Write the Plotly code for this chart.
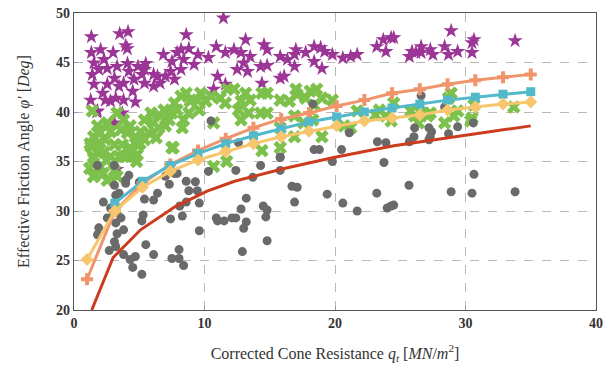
import plotly.graph_objects as go

# ---------------- data ----------------
star_q = [1.33, 3.5, 4.14, 3.96, 4.09, 8.6, 1.33, 2.04, 3.0, 1.53, 2.3, 1.9, 2.55, 3.3, 4.1, 4.9, 5.5, 6.1, 6.4, 6.85,
          7.5, 7.9, 8.2, 8.8, 9.2, 9.5, 10.3, 10.9, 11.6, 8.4, 8.2, 7.4, 7.7, 7.0, 6.6, 5.2, 5.4, 4.6, 3.8, 3.1,
          2.55, 1.53, 2.2, 1.28, 2.8, 3.2, 3.8, 4.7, 1.8, 3.7, 3.1, 11.6, 11.0, 10.7, 2.4, 4.5, 3.45, 6.1, 1.4, 5.4,
          4.2, 1.74, 3.27, 11.45,
          13.15, 12.26, 12.8, 13.5, 14.56, 14.8, 13.0, 12.5, 13.3, 14.3, 14.8, 15.8, 16.35, 17.0, 16.9, 16.9, 17.75,
          18.4, 18.9, 19.2, 18.4, 19.0, 19.8, 20.6, 21.2, 21.7, 14.4, 15.8, 16.1, 23.2, 23.7, 24.3, 23.9,
          24.5, 28.9, 30.65, 30.5, 33.8, 25.7, 25.9, 26.6, 26.6, 27.3, 27.5, 28.4, 28.7, 29.4, 30.5, 26.2]
star_phi = [47.6, 47.9, 48.1, 46.7, 46.4, 47.8, 46.0, 46.3, 46.0, 44.95, 45.3, 44.3, 44.4, 44.6, 44.9, 44.6, 44.9, 43.8, 43.6, 45.8,
            45.1, 46.0, 46.3, 46.4, 44.8, 45.8, 45.5, 46.6, 46.0, 45.3, 44.3, 44.1, 43.3, 43.6, 42.9, 43.8, 42.9, 43.3, 42.9, 43.4,
            42.8, 42.8, 41.9, 41.2, 41.1, 41.4, 41.2, 41.0, 40.1, 39.9, 38.9, 42.8, 43.6, 42.3, 41.2, 42.1, 42.6, 42.6, 43.8, 44.3,
            44.1, 40.0, 34.2, 49.5,
            47.3, 46.3, 46.0, 45.6, 46.8, 46.3, 44.95, 44.3, 44.1, 44.6, 44.7, 45.6, 45.3, 46.3, 45.8, 44.6, 46.0,
            46.6, 46.5, 46.1, 45.1, 44.4, 45.8, 45.45, 45.6, 45.8, 42.9, 43.4, 43.6, 46.6, 47.3, 47.5, 46.1,
            47.5, 48.2, 47.3, 47.0, 47.2, 45.6, 46.1, 46.6, 46.0, 46.3, 45.8, 46.6, 45.8, 46.1, 46.0, 46.0]

cross_q = [1.4, 1.8, 2.55, 3.3, 3.8, 4.3, 1.5, 2.0, 2.8, 3.6, 4.1, 4.7, 5.1, 5.4, 5.9, 6.1, 6.5, 6.6, 7.0, 7.3,
           7.5, 7.7, 7.9, 8.2, 8.6, 8.3, 8.4, 8.8, 8.9, 9.45, 9.7, 10.1, 10.5, 9.6, 7.5, 10.7, 11.2, 11.75, 11.6, 6.9,
           1.3, 1.9, 2.4, 3.1, 3.7, 4.3, 4.85, 5.4, 1.5, 2.3, 2.8, 3.45, 4.1, 4.7, 5.75, 6.3,
           1.23, 2.0, 1.5, 2.5, 1.2, 2.25, 4.0, 4.8, 5.06, 7.6, 10.7, 11.7, 1.5, 3.3, 3.2,
           2.0, 1.5, 2.55, 3.8, 4.85, 3.1,
           12.26, 13.15, 12.8, 13.5, 12.6, 13.4, 12.8, 14.4, 14.8, 14.3, 14.8, 15.8, 16.5, 17.0, 17.1, 17.75, 18.1, 18.6,
           19.0, 18.4, 19.8, 16.9, 17.6, 18.3, 15.8, 16.9, 15.8, 14.4, 19.0, 20.7, 21.2, 21.7, 23.4, 23.9, 24.3, 23.1,
           24.5, 25.8, 26.1, 26.6, 27.1, 26.4, 27.3, 28.4, 28.9, 28.7, 29.4, 29.1, 30.65, 30.5, 30.4, 33.7]
cross_phi = [40.1, 38.6, 38.9, 39.9, 39.2, 38.6, 37.5, 37.9, 38.0, 38.2, 37.9, 37.5, 38.0, 39.2, 39.9, 38.9, 38.4, 39.6, 38.6, 39.2,
             39.9, 40.9, 40.2, 41.6, 41.9, 38.4, 39.2, 39.9, 41.1, 41.2, 41.9, 41.1, 41.6, 40.2, 36.4, 38.9, 41.4, 42.3, 40.9, 40.2,
             36.5, 36.9, 37.2, 36.7, 36.7, 36.4, 36.7, 37.2, 35.5, 35.9, 35.5, 35.5, 35.7, 35.5, 37.9, 37.4,
             36.8, 36.2, 35.3, 35.1, 34.3, 33.8, 35.5, 35.0, 36.8, 36.4, 34.5, 35.0, 33.5, 33.5, 30.1,
             34.5, 33.5, 33.1, 35.5, 35.7, 34.1,
             42.3, 41.9, 41.1, 41.2, 40.2, 39.9, 39.2, 41.9, 41.9, 39.9, 39.9, 41.2, 41.1, 42.3, 41.75, 41.4, 42.1, 42.3,
             41.4, 40.7, 41.2, 39.6, 38.9, 39.2, 38.4, 37.5, 36.4, 36.1, 37.5, 38.6, 38.4, 40.1, 40.2, 39.6, 39.1, 39.7,
             40.9, 40.1, 39.6, 39.9, 39.6, 38.9, 39.9, 38.9, 41.9, 41.4, 40.1, 39.6, 40.7, 39.4, 39.1, 40.5]

circ_q = [1.8, 3.1, 3.96, 3.96, 3.1, 3.2, 3.45, 2.25, 2.8, 2.55, 3.6, 3.2, 1.9, 3.8, 1.8, 3.3, 3.1, 3.2, 2.7, 3.8,
          4.3, 4.7, 4.5, 5.2, 5.5, 6.1, 5.4, 6.1, 6.4, 5.3, 5.2, 7.4, 8.3, 8.1, 8.6, 9.6, 8.8, 9.45, 8.6, 9.3,
          7.3, 7.0, 7.9, 7.7, 4.2, 5.0, 9.6, 7.5, 8.05, 8.05, 8.4, 10.3, 10.9, 11.0, 11.5, 12.1, 10.5,
          12.4, 13.7, 14.3, 15.8, 15.8, 18.4, 18.8, 20.5, 19.8, 23.75, 16.7, 17.1, 19.4, 13.2, 12.8, 12.4, 14.5, 14.8,
          14.7, 16.9, 20.6, 21.7, 23.2, 24.0, 24.3, 13.2, 13.0, 14.8, 12.9,
          30.65, 25.67, 28.9, 30.5, 33.8, 24.5,
          18.3, 21.1, 15.8, 12.6, 23.25, 23.9,
          26.6, 26.1, 27.2, 27.4, 27.3, 26.05, 25.7, 28.7, 29.4, 30.6, 27.2, 28.4]
circ_phi = [34.6, 34.6, 33.1, 32.8, 32.6, 31.6, 31.8, 30.9, 30.3, 29.3, 29.3, 28.8, 28.3, 28.1, 27.6, 27.7, 26.9, 26.4, 26.0, 25.6,
            25.1, 25.4, 24.3, 23.6, 26.6, 25.6, 31.2, 31.1, 31.8, 29.6, 29.0, 29.2, 29.5, 30.5, 30.9, 30.8, 32.05, 32.05, 33.0, 32.96,
            32.7, 33.5, 33.8, 33.8, 33.6, 32.9, 28.0, 25.2, 26.1, 25.2, 24.5, 34.0, 29.3, 29.0, 29.0, 29.3, 39.1,
            34.1, 33.4, 34.6, 35.4, 34.1, 36.2, 36.2, 36.2, 35.0, 34.9, 32.5, 32.4, 31.7, 31.3, 30.2, 29.3, 30.5, 30.1,
            29.4, 30.9, 30.8, 30.0, 31.8, 30.3, 30.5, 28.9, 28.25, 27.0, 25.9,
            33.7, 32.6, 31.95, 31.8, 31.95, 30.6,
            40.8, 37.9, 35.45, 36.9, 37.0, 36.9,
            41.65, 38.4, 38.4, 38.0, 37.5, 37.5, 37.0, 37.8, 38.5, 38.9, 37.2, 40.5]

line_q = [1, 3.125, 5.25, 7.375, 9.5, 11.625, 13.75, 15.875, 18, 20.125, 22.25, 24.375, 26.5, 28.625, 30.75, 32.875, 35]
orange_phi = [23.1, 30.0, 32.8, 34.7, 36.1, 37.3, 38.4, 39.3, 39.9, 40.6, 41.2, 41.9, 42.3, 42.8, 43.2, 43.5, 43.8]
cyan_q = line_q[1:]
cyan_phi = [30.8, 33.0, 34.6, 35.8, 36.8, 37.6, 38.3, 39.0, 39.5, 40.0, 40.4, 40.8, 41.2, 41.5, 41.8, 42.05]
yellow_phi = [25.1, 30.0, 32.4, 34.0, 35.15, 36.0, 36.8, 37.5, 38.05, 38.6, 39.1, 39.4, 39.7, 40.2, 40.5, 40.8, 41.0]
red_q = [1.36, 3.0, 5.1, 7.7, 10.2, 12.3, 16.1, 19.9, 24.5, 29.6, 35.0]
red_phi = [20.0, 25.3, 28.1, 30.4, 32.0, 33.0, 34.3, 35.4, 36.6, 37.6, 38.6]

x_ticks = [0, 10, 20, 30, 40]
y_ticks = [20, 25, 30, 35, 40, 45, 50]

SERIF = "Liberation Serif, Times New Roman, DejaVu Serif, serif"

# ---------------- figure ----------------
fig = go.Figure()
fig.add_trace(go.Scatter(x=star_q, y=star_phi, mode="markers",
                         marker=dict(symbol="star", size=11.5, color="#9b3596", line=dict(width=0))))
fig.add_trace(go.Scatter(x=cross_q, y=cross_phi, mode="markers",
                         marker=dict(symbol="x", size=12, color="#7dc04b", line=dict(width=0))))
fig.add_trace(go.Scatter(x=circ_q, y=circ_phi, mode="markers",
                         marker=dict(symbol="circle", size=9, color="#6a6a6a", line=dict(width=0))))
fig.add_trace(go.Scatter(x=line_q, y=orange_phi, mode="lines+markers",
                         line=dict(color="#f0946c", width=3),
                         marker=dict(symbol="cross", size=10, color="#f0946c")))
fig.add_trace(go.Scatter(x=cyan_q, y=cyan_phi, mode="lines+markers",
                         line=dict(color="#52b9cb", width=3),
                         marker=dict(symbol="square", size=9, color="#52b9cb")))
fig.add_trace(go.Scatter(x=line_q, y=yellow_phi, mode="lines+markers",
                         line=dict(color="#f7c66c", width=3),
                         marker=dict(symbol="diamond", size=10, color="#f7c66c")))
fig.add_trace(go.Scatter(x=red_q, y=red_phi, mode="lines",
                         line=dict(color="#cc3b1d", width=3)))

axis_common = dict(
    showline=True, linecolor="#555555", linewidth=1.2, mirror=True,
    showgrid=True, gridcolor="#b8b8b8", griddash="dash", gridwidth=1,
    zeroline=False, ticks="inside", ticklen=4, tickcolor="#999999",
    automargin=False,
    tickfont=dict(family=SERIF, size=14, color="#333333", weight="bold"),
)

fig.update_layout(
    width=616, height=367,
    margin=dict(l=74, r=20, t=13, b=57),
    paper_bgcolor="white", plot_bgcolor="white",
    showlegend=False,
    font=dict(family=SERIF),
    xaxis=dict(range=[0, 40], tickvals=x_ticks, **axis_common,
               title=dict(text="Corrected Cone Resistance <i>q<sub>t</sub></i> [<i>MN</i>/<i>m</i><sup>2</sup>]",
                          font=dict(family=SERIF, size=16, color="#333333"), standoff=17)),
    yaxis=dict(range=[20, 50], tickvals=y_ticks, **axis_common,
               title=dict(text="Effective Friction Angle <i>φ′</i> [<i>Deg</i>]",
                          font=dict(family=SERIF, size=16, color="#333333"), standoff=22)),
)

fig.write_html("out.html")
